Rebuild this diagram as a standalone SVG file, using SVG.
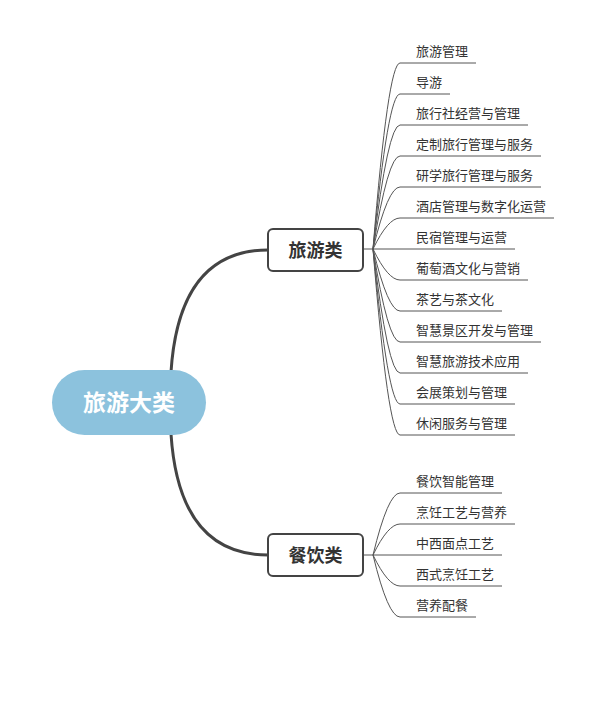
<svg xmlns="http://www.w3.org/2000/svg" width="606" height="724" viewBox="0 0 606 724">
<style>
.main{fill:none;stroke:#444;stroke-width:3;stroke-linecap:round}
.leaf{fill:none;stroke:#555;stroke-width:1}
.box{fill:#fff;stroke:#444;stroke-width:2}
.lt{font-family:"Noto Sans CJK SC","Noto Sans",sans-serif;font-size:13px;fill:#333}
.nt{font-family:"Noto Sans CJK SC","Noto Sans",sans-serif;font-size:18px;font-weight:bold;fill:#333;text-anchor:middle}
.rt{font-family:"Noto Sans CJK SC","Noto Sans",sans-serif;font-size:23px;font-weight:bold;fill:#fff;text-anchor:middle}
</style>
<rect width="606" height="724" fill="#fff"/>
<g id="connectors">
<path class="main" d="M171,372 C176,295 205,250 268,250"/>
<path class="main" d="M171,434 C176,510 205,555 268,555"/>
<path class="leaf" d="M363,249 H373"/>
<path class="leaf" d="M373,249 Q388,63 400,63 H476"/>
<path class="leaf" d="M373,249 Q388,94 400,94 H450"/>
<path class="leaf" d="M373,249 Q388,125 400,125 H528"/>
<path class="leaf" d="M373,249 Q388,156 400,156 H541"/>
<path class="leaf" d="M373,249 Q388,187 400,187 H541"/>
<path class="leaf" d="M373,249 Q388,218 400,218 H554"/>
<path class="leaf" d="M373,249 H515"/>
<path class="leaf" d="M373,249 Q388,280 400,280 H528"/>
<path class="leaf" d="M373,249 Q388,311 400,311 H502"/>
<path class="leaf" d="M373,249 Q388,342 400,342 H541"/>
<path class="leaf" d="M373,249 Q388,373 400,373 H528"/>
<path class="leaf" d="M373,249 Q388,404 400,404 H515"/>
<path class="leaf" d="M373,249 Q388,435 400,435 H515"/>
<path class="leaf" d="M363,555 H373"/>
<path class="leaf" d="M373,555 Q388,493 400,493 H502"/>
<path class="leaf" d="M373,555 Q388,524 400,524 H515"/>
<path class="leaf" d="M373,555 H502"/>
<path class="leaf" d="M373,555 Q388,586 400,586 H502"/>
<path class="leaf" d="M373,555 Q388,617 400,617 H476"/>
</g>
<g id="root">
<rect x="52" y="370" width="154" height="65" rx="32.5" fill="#8cc2dd"/>
<text class="rt" x="129" y="411">旅游大类</text>
</g>
<g id="node-tourism">
<rect class="box" x="268" y="229" width="95" height="42" rx="5"/>
<text class="nt" x="315.5" y="256.5">旅游类</text>
</g>
<g id="node-catering">
<rect class="box" x="268" y="534" width="95" height="42" rx="5"/>
<text class="nt" x="315.5" y="561.5">餐饮类</text>
</g>
<g id="leaves-tourism">
<text class="lt" x="416" y="56">旅游管理</text>
<text class="lt" x="416" y="87">导游</text>
<text class="lt" x="416" y="118">旅行社经营与管理</text>
<text class="lt" x="416" y="149">定制旅行管理与服务</text>
<text class="lt" x="416" y="180">研学旅行管理与服务</text>
<text class="lt" x="416" y="211">酒店管理与数字化运营</text>
<text class="lt" x="416" y="242">民宿管理与运营</text>
<text class="lt" x="416" y="273">葡萄酒文化与营销</text>
<text class="lt" x="416" y="304">茶艺与茶文化</text>
<text class="lt" x="416" y="335">智慧景区开发与管理</text>
<text class="lt" x="416" y="366">智慧旅游技术应用</text>
<text class="lt" x="416" y="397">会展策划与管理</text>
<text class="lt" x="416" y="428">休闲服务与管理</text>
</g>
<g id="leaves-catering">
<text class="lt" x="416" y="486">餐饮智能管理</text>
<text class="lt" x="416" y="517">烹饪工艺与营养</text>
<text class="lt" x="416" y="548">中西面点工艺</text>
<text class="lt" x="416" y="579">西式烹饪工艺</text>
<text class="lt" x="416" y="610">营养配餐</text>
</g>
</svg>
